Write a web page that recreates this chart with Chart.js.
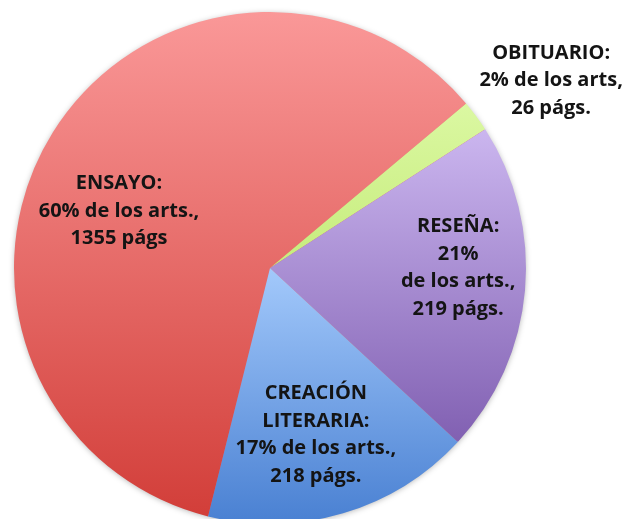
<!DOCTYPE html>
<html>
<head>
<meta charset="utf-8">
<script src="https://cdn.jsdelivr.net/npm/chart.js@4/dist/chart.umd.min.js"></script>
<style>
html,body{margin:0;padding:0;background:#fff;overflow:hidden;width:624px;height:519px;}
#wrap{position:absolute;left:0;top:0;width:624px;height:536px;}
</style>
</head>
<body>
<div id="wrap"><canvas id="c" width="624" height="536"></canvas></div>
<script>
// ---- data ----
const categories = ['ENSAYO', 'OBITUARIO', 'RESEÑA', 'CREACIÓN LITERARIA'];
const percentArticles = [60, 2, 21, 17];
const pages = [1355, 26, 219, 218];
const labelLines = [
  ['ENSAYO:', '60% de los arts.,', '1355 págs'],
  ['OBITUARIO:', '2% de los arts,', '26 págs.'],
  ['RESEÑA:', '21%', 'de los arts.,', '219 págs.'],
  ['CREACIÓN', 'LITERARIA:', '17% de los arts.,', '218 págs.']
];

// ---- styling / placement ----
const gradTop    = ['#FA9898', '#DBF8A2', '#CBB6EF', '#A3C9FB'];
const gradBottom = ['#D23E39', '#C6EC7C', '#8160B2', '#4980D2'];
const labelAngleDeg = [200.6, -33.7, 0, 74.6];   // clockwise from +x
const labelRadiusFrac = [0.63, 1.32, 0.735, 0.675];
const ROTATION = 194;
const LINE_H = 27.5;

function sliceGradient(context) {
  const chart = context.chart;
  const a = chart.chartArea;
  const i = context.dataIndex;
  if (!a) return gradTop[i];
  const cx = (a.left + a.right) / 2, cy = (a.top + a.bottom) / 2;
  const r = Math.min(a.right - a.left, a.bottom - a.top) / 2;
  const data = context.dataset.data;
  const total = data.reduce((s, v) => s + v, 0);
  let start = (ROTATION - 90) * Math.PI / 180;
  for (let k = 0; k < i; k++) start += data[k] / total * 2 * Math.PI;
  const end = start + data[i] / total * 2 * Math.PI;
  let ys = [cy, cy + r * Math.sin(start), cy + r * Math.sin(end)];
  [Math.PI / 2, 3 * Math.PI / 2].forEach(t => {
    for (let m = -2; m <= 4; m++) {
      const tt = t + m * 2 * Math.PI;
      if (tt >= start && tt <= end) ys.push(cy + r * Math.sin(tt));
    }
  });
  const y0 = Math.min(...ys), y1 = Math.max(...ys);
  const g = chart.ctx.createLinearGradient(0, y0, 0, y1);
  g.addColorStop(0, gradTop[i]);
  g.addColorStop(1, gradBottom[i]);
  return g;
}

const shadowPlugin = {
  id: 'pieShadow',
  beforeDatasetsDraw(chart) {
    const el = chart.getDatasetMeta(0).data[0];
    if (!el) return;
    const ctx = chart.ctx;
    ctx.save();
    ctx.shadowColor = 'rgba(0,0,0,0.35)';
    ctx.shadowBlur = 6;
    ctx.shadowOffsetX = 0;
    ctx.shadowOffsetY = 1;
    ctx.fillStyle = '#e06060';
    ctx.beginPath();
    ctx.arc(el.x, el.y, el.outerRadius - 1, 0, Math.PI * 2);
    ctx.fill();
    ctx.restore();
  }
};

const labelPlugin = {
  id: 'sliceLabels',
  afterDatasetsDraw(chart) {
    const meta = chart.getDatasetMeta(0);
    const ctx = chart.ctx;
    ctx.save();
    ctx.font = 'bold 20px "Open Sans", Lato, sans-serif';
    ctx.fillStyle = '#141414';
    ctx.textAlign = 'center';
    ctx.textBaseline = 'middle';
    meta.data.forEach((el, i) => {
      const ang = labelAngleDeg[i] * Math.PI / 180;
      const rr = el.outerRadius * labelRadiusFrac[i];
      const x = el.x + rr * Math.cos(ang);
      const y = el.y + rr * Math.sin(ang);
      const lines = labelLines[i];
      const y0 = y - (lines.length - 1) * LINE_H / 2;
      lines.forEach((t, k) => ctx.fillText(t, x, y0 + k * LINE_H));
    });
    ctx.restore();
  }
};

new Chart(document.getElementById('c'), {
  type: 'pie',
  data: {
    labels: categories,
    datasets: [{
      data: percentArticles,
      pages: pages,
      backgroundColor: sliceGradient,
      borderWidth: 0
    }]
  },
  options: {
    responsive: false,
    animation: false,
    rotation: ROTATION,
    layout: { padding: { left: 14, right: 98, top: 12, bottom: 12 } },
    plugins: { legend: { display: false }, tooltip: { enabled: false } }
  },
  plugins: [shadowPlugin, labelPlugin]
});
</script>
</body>
</html>
